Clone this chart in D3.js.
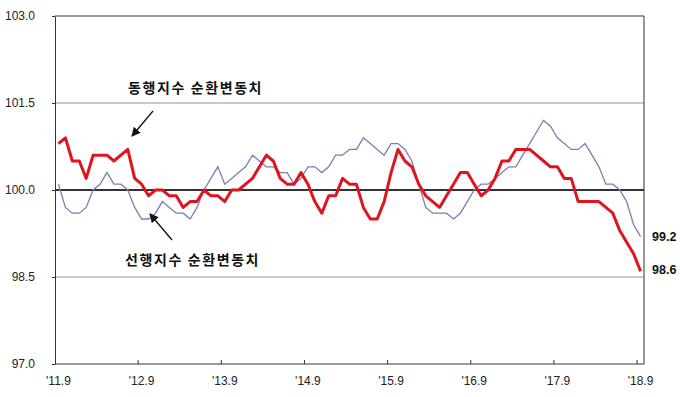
<!DOCTYPE html>
<html>
<head>
<meta charset="utf-8">
<script src="https://cdn.jsdelivr.net/npm/d3@7"></script>
<style>
  html, body { margin: 0; padding: 0; background: #fff; }
  svg { display: block; }
  .tick-label { font-family: "Liberation Sans", Arial, sans-serif; font-size: 12px; fill: #222; }
  .note { font-family: "Noto Sans CJK KR", sans-serif; font-size: 14px; font-weight: bold; fill: #111; letter-spacing: 1.6px; }
  .end-label { font-family: "Liberation Sans", Arial, sans-serif; font-size: 12.5px; font-weight: bold; fill: #111; }
</style>
</head>
<body>
<svg id="chart" width="680" height="397"></svg>
<script>
// monthly, 2011.9 – 2018.9
const MONTHS = d3.range(85).map(i => {
  const m = 8 + i; // 0-based month from Jan 2011
  return `${2011 + Math.floor(m / 12)}.${(m % 12) + 1}`;
});
const TICK_LABELS = ["'11.9", "'12.9", "'13.9", "'14.9", "'15.9", "'16.9", "'17.9", "'18.9"];
const Y_TICKS = [97.0, 98.5, 100.0, 101.5, 103.0];

// 동행지수 순환변동치 (coincident, red)
const COINCIDENT = [
  100.8, 100.9, 100.5, 100.5, 100.2, 100.6, 100.6, 100.6, 100.5, 100.6, 100.7, 100.2,
  100.1, 99.9, 100.0, 100.0, 99.9, 99.9, 99.7, 99.8, 99.8, 100.0, 99.9, 99.9,
  99.8, 100.0, 100.0, 100.1, 100.2, 100.4, 100.6, 100.5, 100.2, 100.1, 100.1, 100.3,
  100.1, 99.8, 99.6, 99.9, 99.9, 100.2, 100.1, 100.1, 99.7, 99.5, 99.5, 99.8,
  100.3, 100.7, 100.5, 100.4, 100.1, 99.9, 99.8, 99.7, 99.9, 100.1, 100.3, 100.3,
  100.1, 99.9, 100.0, 100.2, 100.5, 100.5, 100.7, 100.7, 100.7, 100.6, 100.5, 100.4,
  100.4, 100.2, 100.2, 99.8, 99.8, 99.8, 99.8, 99.7, 99.6, 99.3, 99.1, 98.9,
  98.6
];
// 선행지수 순환변동치 (leading, blue)
const LEADING = [
  100.1, 99.7, 99.6, 99.6, 99.7, 100.0, 100.1, 100.3, 100.1, 100.1, 100.0, 99.7,
  99.5, 99.5, 99.6, 99.8, 99.7, 99.6, 99.6, 99.5, 99.7, 100.0, 100.2, 100.4,
  100.1, 100.2, 100.3, 100.4, 100.6, 100.5, 100.4, 100.4, 100.3, 100.3, 100.1, 100.2,
  100.4, 100.4, 100.3, 100.4, 100.6, 100.6, 100.7, 100.7, 100.9, 100.8, 100.7, 100.6,
  100.8, 100.8, 100.7, 100.5, 100.1, 99.7, 99.6, 99.6, 99.6, 99.5, 99.6, 99.8,
  100.0, 100.1, 100.1, 100.2, 100.3, 100.4, 100.4, 100.6, 100.8, 101.0, 101.2, 101.1,
  100.9, 100.8, 100.7, 100.7, 100.8, 100.6, 100.4, 100.1, 100.1, 100.0, 99.8, 99.4,
  99.2
];

const svg = d3.select('#chart');
const plot = { left: 55, right: 644, top: 16, bottom: 364 };

const x = d3.scaleBand().domain(MONTHS).range([plot.left, plot.right]).padding(0);
const cx = m => x(m) + x.bandwidth() / 2;
const y = d3.scaleLinear().domain([97, 103]).range([plot.bottom, plot.top]);

// grid lines
svg.append('g').selectAll('line')
  .data([98.5, 101.5])
  .join('line')
  .attr('x1', plot.left).attr('x2', plot.right)
  .attr('y1', d => y(d)).attr('y2', d => y(d))
  .attr('stroke', '#b8b8b8').attr('stroke-width', 1.5);

// frame (top + right)
svg.append('line')
  .attr('x1', plot.left).attr('x2', plot.right)
  .attr('y1', y(103)).attr('y2', y(103))
  .attr('stroke', '#333').attr('stroke-width', 1);
svg.append('line')
  .attr('x1', plot.right).attr('x2', plot.right)
  .attr('y1', plot.top).attr('y2', plot.bottom)
  .attr('stroke', '#333').attr('stroke-width', 1);

// y axis
const yAxis = svg.append('g')
  .attr('transform', `translate(${plot.left},0)`)
  .call(d3.axisLeft(y).tickValues(Y_TICKS).tickFormat(d3.format('.1f')).tickSize(3).tickSizeOuter(0));
yAxis.select('.domain').attr('stroke', '#333');
yAxis.selectAll('.tick line').attr('stroke', '#333');
yAxis.selectAll('.tick text').attr('class', 'tick-label').attr('x', -20).attr('font-family', null).attr('font-size', null);

// x axis: ticks at category boundaries, labels at category centres
const labelMonths = MONTHS.filter((m, i) => i % 12 === 0);
const xAxis = svg.append('g');
xAxis.append('line')
  .attr('x1', plot.left).attr('x2', plot.right)
  .attr('y1', plot.bottom).attr('y2', plot.bottom)
  .attr('stroke', '#333');
xAxis.selectAll('line.tk')
  .data(labelMonths.slice(1))
  .join('line')
  .attr('class', 'tk')
  .attr('x1', d => x(d)).attr('x2', d => x(d))
  .attr('y1', plot.bottom).attr('y2', plot.bottom - 4)
  .attr('stroke', '#333');
xAxis.selectAll('text')
  .data(labelMonths)
  .join('text')
  .attr('class', 'tick-label')
  .attr('x', d => cx(d))
  .attr('y', 385)
  .attr('text-anchor', 'middle')
  .text((d, i) => TICK_LABELS[i]);

// 100 reference line
svg.append('line')
  .attr('x1', plot.left).attr('x2', plot.right)
  .attr('y1', y(100)).attr('y2', y(100))
  .attr('stroke', '#333').attr('stroke-width', 1.8);

// series
const line = d3.line().x((d, i) => cx(MONTHS[i])).y(d => y(d));
svg.append('path')
  .datum(LEADING)
  .attr('d', line)
  .attr('fill', 'none')
  .attr('stroke', '#7d7db4')
  .attr('stroke-width', 1.3);
svg.append('path')
  .datum(COINCIDENT)
  .attr('d', line)
  .attr('fill', 'none')
  .attr('stroke', '#e0141e')
  .attr('stroke-width', 3)
  .attr('stroke-linejoin', 'round');

// end labels
svg.append('text').attr('class', 'end-label')
  .attr('x', 652).attr('y', y(LEADING[LEADING.length - 1]) + 5)
  .text(d3.format('.1f')(LEADING[LEADING.length - 1]));
svg.append('text').attr('class', 'end-label')
  .attr('x', 652).attr('y', y(COINCIDENT[COINCIDENT.length - 1]) + 3)
  .text(d3.format('.1f')(COINCIDENT[COINCIDENT.length - 1]));

// annotations with arrows
const defs = svg.append('defs');
defs.append('marker')
  .attr('id', 'arrow')
  .attr('viewBox', '0 0 10 10')
  .attr('refX', 9).attr('refY', 5)
  .attr('markerWidth', 7).attr('markerHeight', 7)
  .attr('orient', 'auto')
  .append('path').attr('d', 'M0,0L10,5L0,10z').attr('fill', '#111');

svg.append('text').attr('class', 'note').attr('x', 128).attr('y', 93).text('동행지수 순환변동치');
svg.append('line')
  .attr('x1', 153).attr('y1', 111).attr('x2', 132).attr('y2', 136)
  .attr('stroke', '#111').attr('stroke-width', 1.3).attr('marker-end', 'url(#arrow)');

svg.append('text').attr('class', 'note').attr('x', 125).attr('y', 265).text('선행지수 순환변동치');
svg.append('line')
  .attr('x1', 172).attr('y1', 240).attr('x2', 150).attr('y2', 214)
  .attr('stroke', '#111').attr('stroke-width', 1.3).attr('marker-end', 'url(#arrow)');
</script>
</body>
</html>
